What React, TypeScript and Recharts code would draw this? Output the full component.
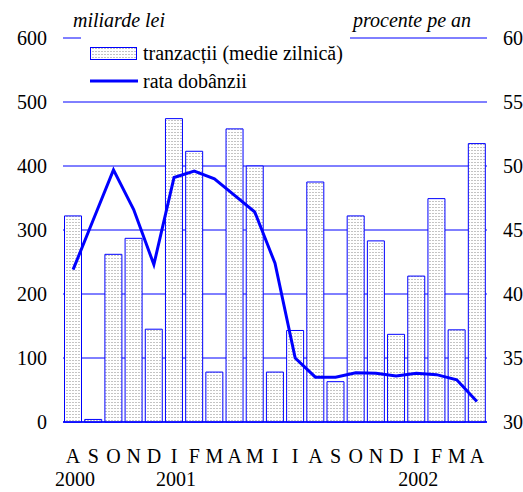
import React from "react";
import {
  ComposedChart,
  Bar,
  Line,
  XAxis,
  YAxis,
  CartesianGrid,
} from "recharts";

const months = ["A", "S", "O", "N", "D", "I", "F", "M", "A", "M", "I", "I", "A", "S", "O", "N", "D", "I", "F", "M", "A"];
const years: Record<number, string> = { 0: "2000", 5: "2001", 17: "2002" };
const tranzactii = [322, 4, 262, 287, 145, 474, 423, 78, 458, 400, 78, 143, 375, 63, 322, 283, 137, 228, 349, 144, 435];
const rataDobanzii = [41.9, 45.8, 49.7, 46.6, 42.3, 49.1, 49.6, 49.0, 47.7, 46.4, 42.4, 35.0, 33.5, 33.5, 33.85, 33.8, 33.6, 33.8, 33.7, 33.3, 31.6];
const leftTicks = [0, 100, 200, 300, 400, 500, 600];
const rightTicks = [30, 35, 40, 45, 50, 55, 60];

const data = months.map((m, i) => ({
  idx: i,
  month: m,
  tranzactii: tranzactii[i],
  rata: rataDobanzii[i],
}));

const FONT = '"Liberation Serif", "Times New Roman", serif';
const BLUE = "#0000ff";

function MonthTick(props: any) {
  const { x, y, payload } = props;
  const i = payload.value as number;
  return (
    <g>
      <text x={x} y={y + 39} textAnchor="middle" fontFamily={FONT} fontSize={20} fill="#000">
        {months[i]}
      </text>
      {years[i] && (
        <text x={x + 2} y={y + 62} textAnchor="middle" fontFamily={FONT} fontSize={20} fill="#000">
          {years[i]}
        </text>
      )}
    </g>
  );
}

function LegendBox() {
  return (
    <div style={{ position: "absolute", left: 81, top: 36, width: 269, height: 62, background: "#fff", fontFamily: FONT, fontSize: 20 }}>
      <svg width={50} height={62} style={{ position: "absolute", left: 8, top: 0 }}>
        <defs>
          <pattern id="dotsLegend" width={3} height={3} patternUnits="userSpaceOnUse">
            <rect x={0} y={0} width={3} height={3} fill="#fff" />
            <rect x={0} y={0} width={2} height={1} fill="#c4c4c4" />
          </pattern>
        </defs>
        <rect x={1.5} y={11.5} width={46} height={12} fill="url(#dotsLegend)" stroke={BLUE} strokeWidth={1} />
        <line x1={1} x2={49} y1={45} y2={45} stroke={BLUE} strokeWidth={3} />
      </svg>
      <div style={{ position: "absolute", left: 62, top: 5, whiteSpace: "nowrap", lineHeight: "24px" }}>
        tranzacții (medie zilnică)
      </div>
      <div style={{ position: "absolute", left: 62, top: 33, whiteSpace: "nowrap", lineHeight: "24px" }}>
        rata dobânzii
      </div>
    </div>
  );
}

export default function App() {
  return (
    <div style={{ position: "absolute", left: 0, top: 0, width: 523, height: 492, background: "#fff" }}>
      <ComposedChart
        width={523}
        height={492}
        data={data}
        margin={{ top: 38, right: 0, bottom: 0, left: 0 }}
        barCategoryGap="7.5%"
      >
        <defs>
          <pattern id="dots" width={3} height={3} patternUnits="userSpaceOnUse">
            <rect x={0} y={0} width={3} height={3} fill="#fff" />
            <rect x={0} y={0} width={2} height={1} fill="#c4c4c4" />
          </pattern>
        </defs>
        <CartesianGrid vertical={false} stroke={BLUE} strokeWidth={1} />
        <XAxis
          dataKey="idx"
          height={70}
          interval={0}
          tickLine={false}
          tickSize={0}
          axisLine={{ stroke: BLUE, strokeWidth: 1.5 }}
          tick={<MonthTick />}
        />
        <YAxis
          width={63}
          domain={[0, 600]}
          ticks={leftTicks}
          axisLine={false}
          tickLine={false}
          tickSize={6}
          tickMargin={10}
          tick={{ fontFamily: FONT, fontSize: 20, fill: "#000" }}
        />
        <YAxis
          yAxisId="right"
          orientation="right"
          width={36}
          domain={[30, 60]}
          ticks={rightTicks}
          axisLine={false}
          tickLine={false}
          tickSize={6}
          tickMargin={10}
          tick={{ fontFamily: FONT, fontSize: 20, fill: "#000", textAnchor: "start" }}
        />
        <Bar
          dataKey="tranzactii"
          name="tranzacții (medie zilnică)"
          fill="url(#dots)"
          stroke={BLUE}
          strokeWidth={1}
          isAnimationActive={false}
        />
        <Line
          yAxisId="right"
          type="linear"
          dataKey="rata"
          name="rata dobânzii"
          stroke={BLUE}
          strokeWidth={3}
          dot={false}
          isAnimationActive={false}
        />
      </ComposedChart>
      <div style={{ position: "absolute", left: 73, top: 8, fontFamily: FONT, fontSize: 20, fontStyle: "italic", lineHeight: "24px" }}>
        miliarde lei
      </div>
      <div style={{ position: "absolute", left: 353, top: 8, fontFamily: FONT, fontSize: 20, fontStyle: "italic", lineHeight: "24px" }}>
        procente pe an
      </div>
      <LegendBox />
    </div>
  );
}
